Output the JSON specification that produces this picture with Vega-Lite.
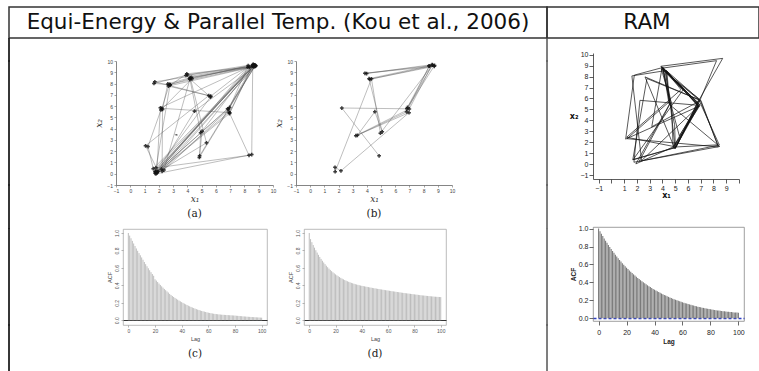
{
"$schema":"https://vega.github.io/schema/vega-lite/v6.json",
"padding":{"left":8,"top":6,"right":0,"bottom":0},
"background":"white",
"config":{"view":{"stroke":null},"axis":{"grid":false,"labelOverlap":false}},
"datasets":{
"one":[{}],
"none":[],
"traceA":[{"i":1,"x":1.76,"y":0.18},{"i":2,"x":8.72,"y":9.66},{"i":3,"x":4.15,"y":8.43},{"i":4,"x":2.80,"y":7.90},{"i":5,"x":1.66,"y":8.01},{"i":6,"x":4.01,"y":8.76},{"i":7,"x":8.60,"y":9.68},{"i":8,"x":1.88,"y":0.16},{"i":9,"x":6.82,"y":5.76},{"i":10,"x":8.77,"y":9.61},{"i":11,"x":2.23,"y":0.21},{"i":12,"x":2.26,"y":5.70},{"i":13,"x":2.63,"y":7.97},{"i":14,"x":4.29,"y":8.55},{"i":15,"x":8.58,"y":9.54},{"i":16,"x":8.51,"y":1.70},{"i":17,"x":1.80,"y":-0.01},{"i":18,"x":6.95,"y":5.34},{"i":19,"x":8.62,"y":9.70},{"i":20,"x":5.03,"y":3.77},{"i":21,"x":4.84,"y":1.45},{"i":22,"x":8.75,"y":9.58},{"i":23,"x":3.90,"y":8.72},{"i":24,"x":5.62,"y":6.80},{"i":25,"x":1.74,"y":0.20},{"i":26,"x":8.70,"y":9.63},{"i":27,"x":1.61,"y":0.45},{"i":28,"x":1.24,"y":2.41},{"i":29,"x":2.15,"y":5.66},{"i":30,"x":4.32,"y":8.42},{"i":31,"x":8.26,"y":9.59},{"i":32,"x":6.96,"y":5.88},{"i":33,"x":1.74,"y":0.04},{"i":34,"x":2.78,"y":7.84},{"i":35,"x":3.96,"y":8.86},{"i":36,"x":8.75,"y":9.53},{"i":37,"x":2.19,"y":0.40},{"i":38,"x":6.92,"y":5.47},{"i":39,"x":8.32,"y":1.63},{"i":40,"x":1.80,"y":0.52},{"i":41,"x":8.64,"y":9.49},{"i":42,"x":4.20,"y":8.52},{"i":43,"x":5.34,"y":2.74},{"i":44,"x":1.90,"y":0.12},{"i":45,"x":8.24,"y":9.45},{"i":46,"x":5.64,"y":6.88},{"i":47,"x":2.67,"y":7.78},{"i":48,"x":8.69,"y":9.50},{"i":49,"x":4.86,"y":1.59},{"i":50,"x":4.93,"y":3.64},{"i":51,"x":4.18,"y":8.38},{"i":52,"x":2.36,"y":0.33},{"i":53,"x":6.88,"y":5.71},{"i":54,"x":8.58,"y":9.62},{"i":55,"x":2.11,"y":5.85},{"i":56,"x":1.86,"y":0.05},{"i":57,"x":4.50,"y":5.55},{"i":58,"x":8.80,"y":9.57},{"i":59,"x":1.72,"y":8.15},{"i":60,"x":5.50,"y":6.93},{"i":61,"x":1.07,"y":2.48},{"i":62,"x":1.95,"y":0.22},{"i":63,"x":8.55,"y":9.57},{"i":64,"x":6.97,"y":5.42},{"i":65,"x":2.21,"y":5.80},{"i":66,"x":2.74,"y":7.93},{"i":67,"x":8.36,"y":9.44},{"i":68,"x":1.80,"y":0.14}],
"traceA2":[{"i":1,"x":3.12,"y":3.47},{"i":2,"x":3.25,"y":3.40},{"i":3,"x":3.20,"y":3.50},{"i":4,"x":3.33,"y":3.43}],
"traceB":[{"i":1,"x":4.86,"y":1.59},{"i":2,"x":2.23,"y":5.83},{"i":3,"x":6.82,"y":5.76},{"i":4,"x":8.77,"y":9.61},{"i":5,"x":4.21,"y":8.38},{"i":6,"x":8.75,"y":9.53},{"i":7,"x":3.86,"y":8.91},{"i":8,"x":8.38,"y":9.57},{"i":9,"x":4.15,"y":8.43},{"i":10,"x":5.08,"y":3.72},{"i":11,"x":4.56,"y":5.50},{"i":12,"x":3.33,"y":3.41},{"i":13,"x":6.80,"y":5.49},{"i":14,"x":8.40,"y":9.55},{"i":15,"x":6.86,"y":5.88},{"i":16,"x":8.62,"y":9.64},{"i":17,"x":4.95,"y":3.60},{"i":18,"x":4.32,"y":8.42},{"i":19,"x":1.76,"y":0.18},{"i":20,"x":1.75,"y":0.57},{"i":21,"x":2.17,"y":0.26},{"i":22,"x":6.97,"y":5.42},{"i":23,"x":3.22,"y":3.37},{"i":24,"x":6.99,"y":5.75},{"i":25,"x":8.60,"y":9.68},{"i":26,"x":3.98,"y":8.89}],
"traceR":[{"i":1,"x":3.86,"y":8.91},{"i":2,"x":6.92,"y":5.47},{"i":3,"x":4.84,"y":1.45},{"i":4,"x":4.69,"y":5.62},{"i":5,"x":3.90,"y":8.72},{"i":6,"x":6.99,"y":5.75},{"i":7,"x":8.34,"y":1.77},{"i":8,"x":4.98,"y":1.57},{"i":9,"x":6.78,"y":5.35},{"i":10,"x":4.34,"y":8.50},{"i":11,"x":4.56,"y":5.50},{"i":12,"x":1.91,"y":0.03},{"i":13,"x":4.86,"y":1.59},{"i":14,"x":6.96,"y":5.88},{"i":15,"x":3.84,"y":8.77},{"i":16,"x":1.79,"y":8.13},{"i":17,"x":1.11,"y":2.29},{"i":18,"x":6.95,"y":5.34},{"i":19,"x":3.88,"y":8.94},{"i":20,"x":8.72,"y":9.66},{"i":21,"x":6.82,"y":5.76},{"i":22,"x":5.03,"y":1.52},{"i":23,"x":1.67,"y":0.40},{"i":24,"x":2.78,"y":7.82},{"i":25,"x":6.84,"y":5.90},{"i":26,"x":8.46,"y":1.75},{"i":27,"x":2.17,"y":0.26},{"i":28,"x":4.66,"y":5.66},{"i":29,"x":4.21,"y":8.38},{"i":30,"x":6.90,"y":5.30},{"i":31,"x":4.88,"y":1.62},{"i":32,"x":1.19,"y":2.46},{"i":33,"x":5.45,"y":6.81},{"i":34,"x":4.03,"y":8.84},{"i":35,"x":4.52,"y":5.48},{"i":36,"x":8.49,"y":1.62},{"i":37,"x":1.76,"y":0.18},{"i":38,"x":2.23,"y":5.83},{"i":39,"x":6.80,"y":5.38},{"i":40,"x":4.00,"y":8.80},{"i":41,"x":4.95,"y":3.60},{"i":42,"x":5.01,"y":1.44},{"i":43,"x":6.86,"y":5.93},{"i":44,"x":4.29,"y":8.55},{"i":45,"x":1.60,"y":8.06},{"i":46,"x":2.36,"y":0.33},{"i":47,"x":6.84,"y":5.30},{"i":48,"x":4.97,"y":1.41},{"i":49,"x":2.63,"y":7.97},{"i":50,"x":6.94,"y":5.84},{"i":51,"x":8.24,"y":9.45},{"i":52,"x":4.05,"y":8.78},{"i":53,"x":4.61,"y":5.52},{"i":54,"x":4.99,"y":1.46},{"i":55,"x":6.80,"y":5.49},{"i":56,"x":3.98,"y":8.89},{"i":57,"x":3.16,"y":3.42},{"i":58,"x":7.01,"y":5.83},{"i":59,"x":8.38,"y":1.58},{"i":60,"x":1.22,"y":2.33},{"i":61,"x":4.52,"y":5.69},{"i":62,"x":4.27,"y":8.58},{"i":63,"x":6.76,"y":5.33},{"i":64,"x":5.05,"y":1.55},{"i":65,"x":1.70,"y":0.42},{"i":66,"x":5.62,"y":6.80},{"i":67,"x":3.91,"y":8.87},{"i":68,"x":6.89,"y":5.45},{"i":69,"x":5.32,"y":2.60},{"i":70,"x":4.63,"y":5.58}],
"acfC":[{"lag":0,"acf":1.0},{"lag":1,"acf":0.970},{"lag":2,"acf":0.940},{"lag":3,"acf":0.910},{"lag":4,"acf":0.880},{"lag":5,"acf":0.851},{"lag":6,"acf":0.823},{"lag":7,"acf":0.796},{"lag":8,"acf":0.770},{"lag":9,"acf":0.745},{"lag":10,"acf":0.720},{"lag":11,"acf":0.694},{"lag":12,"acf":0.668},{"lag":13,"acf":0.643},{"lag":14,"acf":0.619},{"lag":15,"acf":0.596},{"lag":16,"acf":0.573},{"lag":17,"acf":0.551},{"lag":18,"acf":0.530},{"lag":19,"acf":0.510},{"lag":20,"acf":0.470},{"lag":21,"acf":0.455},{"lag":22,"acf":0.438},{"lag":23,"acf":0.421},{"lag":24,"acf":0.405},{"lag":25,"acf":0.389},{"lag":26,"acf":0.374},{"lag":27,"acf":0.359},{"lag":28,"acf":0.345},{"lag":29,"acf":0.331},{"lag":30,"acf":0.318},{"lag":31,"acf":0.302},{"lag":32,"acf":0.290},{"lag":33,"acf":0.278},{"lag":34,"acf":0.267},{"lag":35,"acf":0.256},{"lag":36,"acf":0.246},{"lag":37,"acf":0.236},{"lag":38,"acf":0.226},{"lag":39,"acf":0.217},{"lag":40,"acf":0.208},{"lag":41,"acf":0.199},{"lag":42,"acf":0.191},{"lag":43,"acf":0.183},{"lag":44,"acf":0.175},{"lag":45,"acf":0.167},{"lag":46,"acf":0.160},{"lag":47,"acf":0.153},{"lag":48,"acf":0.146},{"lag":49,"acf":0.140},{"lag":50,"acf":0.134},{"lag":51,"acf":0.128},{"lag":52,"acf":0.122},{"lag":53,"acf":0.117},{"lag":54,"acf":0.112},{"lag":55,"acf":0.107},{"lag":56,"acf":0.103},{"lag":57,"acf":0.099},{"lag":58,"acf":0.095},{"lag":59,"acf":0.091},{"lag":60,"acf":0.087},{"lag":61,"acf":0.084},{"lag":62,"acf":0.081},{"lag":63,"acf":0.078},{"lag":64,"acf":0.075},{"lag":65,"acf":0.073},{"lag":66,"acf":0.071},{"lag":67,"acf":0.069},{"lag":68,"acf":0.067},{"lag":69,"acf":0.066},{"lag":70,"acf":0.064},{"lag":71,"acf":0.063},{"lag":72,"acf":0.062},{"lag":73,"acf":0.061},{"lag":74,"acf":0.060},{"lag":75,"acf":0.059},{"lag":76,"acf":0.058},{"lag":77,"acf":0.057},{"lag":78,"acf":0.056},{"lag":79,"acf":0.055},{"lag":80,"acf":0.054},{"lag":81,"acf":0.052},{"lag":82,"acf":0.051},{"lag":83,"acf":0.050},{"lag":84,"acf":0.048},{"lag":85,"acf":0.047},{"lag":86,"acf":0.045},{"lag":87,"acf":0.044},{"lag":88,"acf":0.043},{"lag":89,"acf":0.041},{"lag":90,"acf":0.040},{"lag":91,"acf":0.039},{"lag":92,"acf":0.038},{"lag":93,"acf":0.037},{"lag":94,"acf":0.036},{"lag":95,"acf":0.035},{"lag":96,"acf":0.034},{"lag":97,"acf":0.033},{"lag":98,"acf":0.032},{"lag":99,"acf":0.031},{"lag":100,"acf":0.030}],
"acfD":[{"lag":0,"acf":1.0},{"lag":1,"acf":0.930},{"lag":2,"acf":0.895},{"lag":3,"acf":0.862},{"lag":4,"acf":0.832},{"lag":5,"acf":0.803},{"lag":6,"acf":0.776},{"lag":7,"acf":0.750},{"lag":8,"acf":0.726},{"lag":9,"acf":0.703},{"lag":10,"acf":0.682},{"lag":11,"acf":0.662},{"lag":12,"acf":0.643},{"lag":13,"acf":0.625},{"lag":14,"acf":0.608},{"lag":15,"acf":0.592},{"lag":16,"acf":0.577},{"lag":17,"acf":0.563},{"lag":18,"acf":0.550},{"lag":19,"acf":0.538},{"lag":20,"acf":0.526},{"lag":21,"acf":0.515},{"lag":22,"acf":0.505},{"lag":23,"acf":0.495},{"lag":24,"acf":0.486},{"lag":25,"acf":0.477},{"lag":26,"acf":0.469},{"lag":27,"acf":0.461},{"lag":28,"acf":0.454},{"lag":29,"acf":0.447},{"lag":30,"acf":0.441},{"lag":31,"acf":0.435},{"lag":32,"acf":0.429},{"lag":33,"acf":0.424},{"lag":34,"acf":0.419},{"lag":35,"acf":0.414},{"lag":36,"acf":0.410},{"lag":37,"acf":0.406},{"lag":38,"acf":0.402},{"lag":39,"acf":0.398},{"lag":40,"acf":0.395},{"lag":41,"acf":0.392},{"lag":42,"acf":0.389},{"lag":43,"acf":0.386},{"lag":44,"acf":0.383},{"lag":45,"acf":0.380},{"lag":46,"acf":0.377},{"lag":47,"acf":0.374},{"lag":48,"acf":0.371},{"lag":49,"acf":0.368},{"lag":50,"acf":0.366},{"lag":51,"acf":0.363},{"lag":52,"acf":0.360},{"lag":53,"acf":0.358},{"lag":54,"acf":0.355},{"lag":55,"acf":0.353},{"lag":56,"acf":0.350},{"lag":57,"acf":0.348},{"lag":58,"acf":0.345},{"lag":59,"acf":0.343},{"lag":60,"acf":0.341},{"lag":61,"acf":0.338},{"lag":62,"acf":0.336},{"lag":63,"acf":0.333},{"lag":64,"acf":0.331},{"lag":65,"acf":0.329},{"lag":66,"acf":0.326},{"lag":67,"acf":0.324},{"lag":68,"acf":0.322},{"lag":69,"acf":0.320},{"lag":70,"acf":0.317},{"lag":71,"acf":0.315},{"lag":72,"acf":0.313},{"lag":73,"acf":0.311},{"lag":74,"acf":0.309},{"lag":75,"acf":0.307},{"lag":76,"acf":0.305},{"lag":77,"acf":0.303},{"lag":78,"acf":0.301},{"lag":79,"acf":0.299},{"lag":80,"acf":0.297},{"lag":81,"acf":0.295},{"lag":82,"acf":0.293},{"lag":83,"acf":0.291},{"lag":84,"acf":0.289},{"lag":85,"acf":0.287},{"lag":86,"acf":0.285},{"lag":87,"acf":0.284},{"lag":88,"acf":0.282},{"lag":89,"acf":0.280},{"lag":90,"acf":0.279},{"lag":91,"acf":0.277},{"lag":92,"acf":0.276},{"lag":93,"acf":0.274},{"lag":94,"acf":0.273},{"lag":95,"acf":0.271},{"lag":96,"acf":0.270},{"lag":97,"acf":0.269},{"lag":98,"acf":0.268},{"lag":99,"acf":0.267},{"lag":100,"acf":0.266}],
"acfR":[{"lag":0,"acf":1.0},{"lag":1,"acf":0.972},{"lag":2,"acf":0.944},{"lag":3,"acf":0.917},{"lag":4,"acf":0.891},{"lag":5,"acf":0.866},{"lag":6,"acf":0.842},{"lag":7,"acf":0.818},{"lag":8,"acf":0.795},{"lag":9,"acf":0.773},{"lag":10,"acf":0.751},{"lag":11,"acf":0.730},{"lag":12,"acf":0.709},{"lag":13,"acf":0.689},{"lag":14,"acf":0.670},{"lag":15,"acf":0.651},{"lag":16,"acf":0.633},{"lag":17,"acf":0.615},{"lag":18,"acf":0.598},{"lag":19,"acf":0.581},{"lag":20,"acf":0.565},{"lag":21,"acf":0.549},{"lag":22,"acf":0.534},{"lag":23,"acf":0.519},{"lag":24,"acf":0.504},{"lag":25,"acf":0.490},{"lag":26,"acf":0.476},{"lag":27,"acf":0.463},{"lag":28,"acf":0.450},{"lag":29,"acf":0.437},{"lag":30,"acf":0.425},{"lag":31,"acf":0.413},{"lag":32,"acf":0.401},{"lag":33,"acf":0.390},{"lag":34,"acf":0.379},{"lag":35,"acf":0.368},{"lag":36,"acf":0.358},{"lag":37,"acf":0.348},{"lag":38,"acf":0.338},{"lag":39,"acf":0.328},{"lag":40,"acf":0.319},{"lag":41,"acf":0.310},{"lag":42,"acf":0.301},{"lag":43,"acf":0.293},{"lag":44,"acf":0.284},{"lag":45,"acf":0.276},{"lag":46,"acf":0.268},{"lag":47,"acf":0.261},{"lag":48,"acf":0.253},{"lag":49,"acf":0.246},{"lag":50,"acf":0.239},{"lag":51,"acf":0.232},{"lag":52,"acf":0.226},{"lag":53,"acf":0.219},{"lag":54,"acf":0.213},{"lag":55,"acf":0.207},{"lag":56,"acf":0.201},{"lag":57,"acf":0.195},{"lag":58,"acf":0.190},{"lag":59,"acf":0.184},{"lag":60,"acf":0.179},{"lag":61,"acf":0.174},{"lag":62,"acf":0.169},{"lag":63,"acf":0.164},{"lag":64,"acf":0.159},{"lag":65,"acf":0.155},{"lag":66,"acf":0.150},{"lag":67,"acf":0.146},{"lag":68,"acf":0.142},{"lag":69,"acf":0.138},{"lag":70,"acf":0.134},{"lag":71,"acf":0.130},{"lag":72,"acf":0.126},{"lag":73,"acf":0.123},{"lag":74,"acf":0.119},{"lag":75,"acf":0.116},{"lag":76,"acf":0.113},{"lag":77,"acf":0.110},{"lag":78,"acf":0.107},{"lag":79,"acf":0.104},{"lag":80,"acf":0.101},{"lag":81,"acf":0.098},{"lag":82,"acf":0.096},{"lag":83,"acf":0.093},{"lag":84,"acf":0.091},{"lag":85,"acf":0.088},{"lag":86,"acf":0.086},{"lag":87,"acf":0.084},{"lag":88,"acf":0.082},{"lag":89,"acf":0.080},{"lag":90,"acf":0.078},{"lag":91,"acf":0.076},{"lag":92,"acf":0.074},{"lag":93,"acf":0.072},{"lag":94,"acf":0.071},{"lag":95,"acf":0.069},{"lag":96,"acf":0.068},{"lag":97,"acf":0.066},{"lag":98,"acf":0.065},{"lag":99,"acf":0.064},{"lag":100,"acf":0.063}]
},
"spacing":-2,
"vconcat":[
{"hconcat":[
 {"width":538,"height":31,"data":{"name":"one"},"mark":{"type":"text","text":"Equi-Energy & Parallel Temp. (Kou et al., 2006)","font":"DejaVu Sans","fontSize":21.5,"color":"#111"},"view":{"stroke":"#333","strokeWidth":1.5}},
 {"width":212,"height":31,"data":{"name":"one"},"mark":{"type":"text","text":"RAM","font":"DejaVu Sans","fontSize":21.5,"color":"#111","dx":-6},"view":{"stroke":"#333","strokeWidth":1.5}}
],"spacing":0,"bounds":"flush"},
{"hconcat":[
 {"vconcat":[
  {"concat":[
   {"width":0.01,"height":22,"data":{"name":"none"},"mark":"text","view":{"stroke":"#222","strokeWidth":1.8}},
   {"width":106,"height":1,"data":{"name":"none"},"mark":"text"},
   {"width":157,"height":1,"data":{"name":"none"},"mark":"text"},
   {"width":23,"height":1,"data":{"name":"none"},"mark":"text"},
   {"width":156,"height":1,"data":{"name":"none"},"mark":"text"},
   {"width":95,"height":1,"data":{"name":"none"},"mark":"text"},
   {"width":0.01,"height":22,"data":{"name":"none"},"mark":"text","view":{"stroke":"#555","strokeWidth":1.5}},

   {"width":0.01,"height":124,"data":{"name":"none"},"mark":"text","view":{"stroke":"#222","strokeWidth":1.8}},
   {"width":1,"height":1,"data":{"name":"none"},"mark":"text"},
   {"width":157,"height":124,"data":{"name":"traceA"},
    "title":{"text":"(a)","orient":"bottom","frame":"group","font":"DejaVu Serif","fontSize":10.5,"fontWeight":"normal","color":"#222","offset":5},
    "encoding":{
     "x":{"field":"x","type":"quantitative","scale":{"domain":[-1,10],"nice":false,"zero":false},"axis":{"values":[-1,0,1,2,3,4,5,6,7,8,9,10],"title":"x₁","labelFontSize":5,"labelFont":"Liberation Sans","labelColor":"#444","tickSize":2,"tickWidth":0.6,"tickColor":"#666","domainColor":"#666","domainWidth":0.8,"labelPadding":1.5,"labelOverlap":false,"labelFlush":false,"titleFont":"DejaVu Serif","titleFontStyle":"italic","titleFontWeight":"normal","titleFontSize":9,"titleColor":"#333","titlePadding":1}},
     "y":{"field":"y","type":"quantitative","scale":{"domain":[-1,10],"nice":false,"zero":false},"axis":{"values":[-1,0,1,2,3,4,5,6,7,8,9,10],"title":"x₂","labelFontSize":5,"labelFont":"Liberation Sans","labelColor":"#444","tickSize":2,"tickWidth":0.6,"tickColor":"#666","domainColor":"#666","domainWidth":0.8,"labelPadding":1.5,"labelOverlap":false,"labelFlush":false,"titleFont":"DejaVu Serif","titleFontStyle":"italic","titleFontWeight":"normal","titleFontSize":9,"titleColor":"#333","titlePadding":3}}},
    "layer":[
     {"mark":{"type":"line","color":"#555","strokeWidth":0.45,"opacity":0.85},"encoding":{"order":{"field":"i","type":"quantitative"}}},
     {"data":{"name":"traceA2"},"mark":{"type":"line","color":"#333","strokeWidth":0.6},"encoding":{"order":{"field":"i","type":"quantitative"}}},
     {"mark":{"type":"point","shape":"cross","size":14,"filled":true,"color":"#111","opacity":0.8}}
    ]},
   {"width":1,"height":1,"data":{"name":"none"},"mark":"text"},
   {"width":156,"height":124,"data":{"name":"traceB"},
    "title":{"text":"(b)","orient":"bottom","frame":"group","font":"DejaVu Serif","fontSize":10.5,"fontWeight":"normal","color":"#222","offset":5},
    "encoding":{
     "x":{"field":"x","type":"quantitative","scale":{"domain":[-1,10],"nice":false,"zero":false},"axis":{"values":[-1,0,1,2,3,4,5,6,7,8,9,10],"title":"x₁","labelFontSize":5,"labelFont":"Liberation Sans","labelColor":"#444","tickSize":2,"tickWidth":0.6,"tickColor":"#666","domainColor":"#666","domainWidth":0.8,"labelPadding":1.5,"labelOverlap":false,"labelFlush":false,"titleFont":"DejaVu Serif","titleFontStyle":"italic","titleFontWeight":"normal","titleFontSize":9,"titleColor":"#333","titlePadding":1}},
     "y":{"field":"y","type":"quantitative","scale":{"domain":[-1,10],"nice":false,"zero":false},"axis":{"values":[-1,0,1,2,3,4,5,6,7,8,9,10],"title":"x₂","labelFontSize":5,"labelFont":"Liberation Sans","labelColor":"#444","tickSize":2,"tickWidth":0.6,"tickColor":"#666","domainColor":"#666","domainWidth":0.8,"labelPadding":1.5,"labelOverlap":false,"labelFlush":false,"titleFont":"DejaVu Serif","titleFontStyle":"italic","titleFontWeight":"normal","titleFontSize":9,"titleColor":"#333","titlePadding":3}}},
    "layer":[
     {"mark":{"type":"line","color":"#555","strokeWidth":0.45,"opacity":0.85},"encoding":{"order":{"field":"i","type":"quantitative"}}},
     {"mark":{"type":"point","shape":"cross","size":14,"filled":true,"color":"#111","opacity":0.8}}
    ]},
   {"width":1,"height":1,"data":{"name":"none"},"mark":"text"},
   {"width":0.01,"height":124,"data":{"name":"none"},"mark":"text","view":{"stroke":"#555","strokeWidth":1.5}},

   {"width":0.01,"height":43,"data":{"name":"none"},"mark":"text","view":{"stroke":"#222","strokeWidth":1.8}},
   {"width":1,"height":1,"data":{"name":"none"},"mark":"text"},
   {"width":1,"height":1,"data":{"name":"none"},"mark":"text"},
   {"width":1,"height":1,"data":{"name":"none"},"mark":"text"},
   {"width":1,"height":1,"data":{"name":"none"},"mark":"text"},
   {"width":1,"height":1,"data":{"name":"none"},"mark":"text"},
   {"width":0.01,"height":43,"data":{"name":"none"},"mark":"text","view":{"stroke":"#555","strokeWidth":1.5}}
  ],"columns":7,"spacing":0,"bounds":"flush","align":"each"},
  {"concat":[
   {"width":0.01,"height":96,"data":{"name":"none"},"mark":"text","view":{"stroke":"#222","strokeWidth":1.8}},
   {"width":113,"height":1,"data":{"name":"none"},"mark":"text"},
   {"width":144,"height":96,"data":{"name":"acfC"},"view":{"stroke":"#aaa","strokeWidth":0.8},
    "title":{"text":"(c)","orient":"bottom","frame":"group","font":"DejaVu Serif","fontSize":10.5,"fontWeight":"normal","color":"#222","offset":7},
    "mark":{"type":"rule","color":"#bdbdbd","strokeWidth":1},
    "encoding":{
     "x":{"field":"lag","type":"quantitative","scale":{"domain":[-4,104],"nice":false,"zero":false},"axis":{"values":[0,20,40,60,80,100],"title":"Lag","domain":false,"labelFontSize":5,"labelFont":"Liberation Sans","labelColor":"#555","tickSize":2,"tickWidth":0.6,"tickColor":"#888","labelPadding":1.5,"labelFlush":false,"labelOverlap":false,"titleFont":"Liberation Sans","titleFontSize":5.5,"titleFontWeight":"normal","titleColor":"#444","titlePadding":3}},
     "y":{"field":"acf","type":"quantitative","scale":{"domain":[-0.054,1.046],"nice":false,"zero":false},"axis":{"values":[0,0.2,0.4,0.6,0.8,1],"format":".1f","title":"ACF","domain":false,"grid":true,"gridColor":{"condition":{"test":"datum.value === 0","value":"#333"},"value":"transparent"},"gridWidth":1,"labelAngle":270,"labelAlign":"center","labelBaseline":"bottom","labelFontSize":5,"labelFont":"Liberation Sans","labelColor":"#555","tickSize":2,"tickWidth":0.6,"tickColor":"#888","labelPadding":1.5,"labelFlush":false,"labelOverlap":false,"titleFont":"Liberation Sans","titleFontSize":5.5,"titleFontWeight":"normal","titleColor":"#444","titlePadding":2}},
     "y2":{"datum":0}}},
   {"width":37,"height":1,"data":{"name":"none"},"mark":"text"},
   {"width":142,"height":96,"data":{"name":"acfD"},"view":{"stroke":"#aaa","strokeWidth":0.8},
    "title":{"text":"(d)","orient":"bottom","frame":"group","font":"DejaVu Serif","fontSize":10.5,"fontWeight":"normal","color":"#222","offset":7},
    "mark":{"type":"rule","color":"#bdbdbd","strokeWidth":1},
    "encoding":{
     "x":{"field":"lag","type":"quantitative","scale":{"domain":[-4,104],"nice":false,"zero":false},"axis":{"values":[0,20,40,60,80,100],"title":"Lag","domain":false,"labelFontSize":5,"labelFont":"Liberation Sans","labelColor":"#555","tickSize":2,"tickWidth":0.6,"tickColor":"#888","labelPadding":1.5,"labelFlush":false,"labelOverlap":false,"titleFont":"Liberation Sans","titleFontSize":5.5,"titleFontWeight":"normal","titleColor":"#444","titlePadding":3}},
     "y":{"field":"acf","type":"quantitative","scale":{"domain":[-0.054,1.046],"nice":false,"zero":false},"axis":{"values":[0,0.2,0.4,0.6,0.8,1],"format":".1f","title":"ACF","domain":false,"grid":true,"gridColor":{"condition":{"test":"datum.value === 0","value":"#333"},"value":"transparent"},"gridWidth":1,"labelAngle":270,"labelAlign":"center","labelBaseline":"bottom","labelFontSize":5,"labelFont":"Liberation Sans","labelColor":"#555","tickSize":2,"tickWidth":0.6,"tickColor":"#888","labelPadding":1.5,"labelFlush":false,"labelOverlap":false,"titleFont":"Liberation Sans","titleFontSize":5.5,"titleFontWeight":"normal","titleColor":"#444","titlePadding":2}},
     "y2":{"datum":0}}},
   {"width":101,"height":1,"data":{"name":"none"},"mark":"text"},
   {"width":0.01,"height":96,"data":{"name":"none"},"mark":"text","view":{"stroke":"#555","strokeWidth":1.5}},

   {"width":0.01,"height":50,"data":{"name":"none"},"mark":"text","view":{"stroke":"#222","strokeWidth":1.8}},
   {"width":1,"height":1,"data":{"name":"none"},"mark":"text"},
   {"width":1,"height":1,"data":{"name":"none"},"mark":"text"},
   {"width":1,"height":1,"data":{"name":"none"},"mark":"text"},
   {"width":1,"height":1,"data":{"name":"none"},"mark":"text"},
   {"width":1,"height":1,"data":{"name":"none"},"mark":"text"},
   {"width":0.01,"height":50,"data":{"name":"none"},"mark":"text","view":{"stroke":"#555","strokeWidth":1.5}}
  ],"columns":7,"spacing":0,"bounds":"flush","align":"each"}
 ],"spacing":-2},
 {"concat":[
  {"width":45,"height":14,"data":{"name":"none"},"mark":"text"},
  {"width":1,"height":1,"data":{"name":"none"},"mark":"text"},
  {"width":1,"height":1,"data":{"name":"none"},"mark":"text"},
  {"width":146,"height":126,"data":{"name":"traceR"},
   "mark":{"type":"line","color":"#111","strokeWidth":0.7},
   "encoding":{
    "x":{"field":"x","type":"quantitative","scale":{"domain":[-1.45,10],"nice":false,"zero":false},"axis":{"values":[-1,0,1,2,3,4,5,6,7,8,9,10],"labelExpr":"datum.value == 0 || datum.value == 10 ? '' : datum.label","title":"x₁","labelFontSize":7,"labelFont":"Liberation Sans","labelColor":"#222","tickSize":4,"tickWidth":0.8,"tickColor":"#333","domainColor":"#333","domainWidth":0.8,"labelPadding":1.5,"labelOverlap":false,"labelFlush":false,"titleFont":"DejaVu Sans","titleFontWeight":"bold","titleFontSize":8,"titleColor":"#111","titlePadding":0}},
    "y":{"field":"y","type":"quantitative","scale":{"domain":[-1.35,10.15],"nice":false,"zero":false},"axis":{"values":[-1,0,1,2,3,4,5,6,7,8,9,10],"title":"x₂","titleAngle":0,"titleAlign":"right","titleBaseline":"middle","labelFontSize":7,"labelFont":"Liberation Sans","labelColor":"#222","tickSize":4,"tickWidth":0.8,"tickColor":"#333","domainColor":"#333","domainWidth":0.8,"labelPadding":1,"labelOverlap":false,"labelFlush":false,"titleFont":"DejaVu Sans","titleFontWeight":"bold","titleFontSize":8,"titleColor":"#111","titlePadding":2}},
    "order":{"field":"i","type":"quantitative"}}},
  {"width":1,"height":48,"data":{"name":"none"},"mark":"text"},
  {"width":1,"height":1,"data":{"name":"none"},"mark":"text"},
  {"width":1,"height":1,"data":{"name":"none"},"mark":"text"},
  {"width":151,"height":94,"data":{"name":"acfR"},"view":{"stroke":"#888","strokeWidth":0.8},
   "mark":{"type":"rule","color":"#7a7a7a","strokeWidth":1.1},
   "encoding":{
    "x":{"field":"lag","type":"quantitative","scale":{"domain":[-4,104],"nice":false,"zero":false},"axis":{"values":[0,20,40,60,80,100],"title":"Lag","domain":false,"labelFontSize":7,"labelFont":"Liberation Sans","labelColor":"#222","tickSize":4,"tickWidth":0.8,"tickColor":"#444","labelPadding":3,"labelFlush":false,"labelOverlap":false,"titleFont":"Liberation Sans","titleFontSize":6.5,"titleFontWeight":"bold","titleColor":"#222","titlePadding":3}},
    "y":{"field":"acf","type":"quantitative","scale":{"domain":[-0.03,1.018],"nice":false,"zero":false},"axis":{"values":[0,0.2,0.4,0.6,0.8,1],"format":".1f","title":"ACF","domain":false,"grid":true,"gridColor":{"condition":{"test":"datum.value === 0","value":"#2f3fc4"},"value":"transparent"},"gridWidth":1.6,"gridDash":[3,2],"labelFontSize":7,"labelFont":"Liberation Sans","labelColor":"#222","tickSize":4,"tickWidth":0.8,"tickColor":"#444","labelPadding":1,"labelFlush":false,"labelOverlap":false,"titleFont":"Liberation Sans","titleFontSize":6.5,"titleFontWeight":"bold","titleColor":"#222","titlePadding":2}},
    "y2":{"datum":0}}}
 ],"columns":2,"spacing":0,"bounds":"flush","align":"each"}
],"spacing":-1}
]
}
